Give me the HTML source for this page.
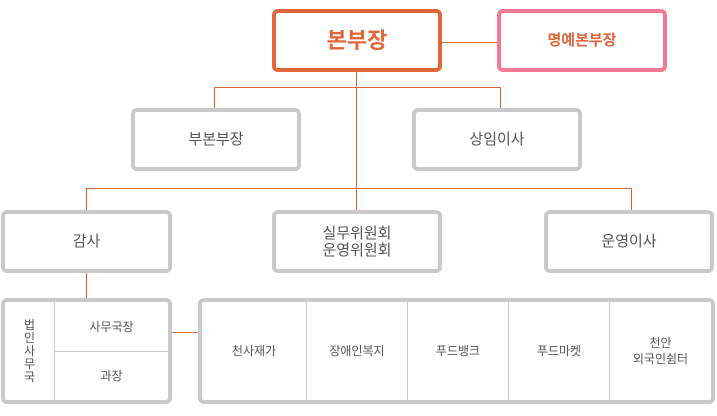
<!DOCTYPE html>
<html><head><meta charset="utf-8"><style>
body{margin:0;width:717px;height:416px;background:#fff;position:relative;overflow:hidden;font-family:"Liberation Sans","Noto Sans CJK KR",sans-serif;}
.b{position:absolute;box-sizing:border-box;border:4px solid #c9c9c9;border-radius:6px;display:flex;align-items:center;justify-content:center;color:#555;font-size:15px;text-align:center;line-height:17px;background:#fff;}
.l{position:absolute;background:#e0663a;}
.c{position:absolute;display:flex;align-items:center;justify-content:center;color:#555;font-size:12px;text-align:center;line-height:16px;}
</style></head><body>
<div class="l" style="left:442px;top:42px;width:55px;height:1px"></div>
<div class="l" style="left:356px;top:72px;width:1px;height:138px"></div>
<div class="l" style="left:214px;top:87px;width:287px;height:1px"></div>
<div class="l" style="left:214px;top:87px;width:1px;height:22px"></div>
<div class="l" style="left:500px;top:87px;width:1px;height:22px"></div>
<div class="l" style="left:86px;top:188px;width:546px;height:1px"></div>
<div class="l" style="left:86px;top:188px;width:1px;height:22px"></div>
<div class="l" style="left:631px;top:188px;width:1px;height:22px"></div>
<div class="l" style="left:86px;top:272px;width:1px;height:27px"></div>
<div class="l" style="left:171px;top:332px;width:28px;height:1px"></div>

<div class="b" style="left:272px;top:9px;width:170px;height:63px;border-color:#e0663a;color:#e0663a;font-size:22px;font-weight:bold">본부장</div>
<div class="b" style="left:497px;top:9px;width:170px;height:63px;border-color:#f47a93;color:#e0663a;font-size:15px;font-weight:bold">명예본부장</div>
<div class="b" style="left:131px;top:108px;width:170px;height:63px">부본부장</div>
<div class="b" style="left:412px;top:108px;width:170px;height:63px">상임이사</div>
<div class="b" style="left:1px;top:210px;width:171px;height:63px">감사</div>
<div class="b" style="left:272px;top:210px;width:170px;height:63px">실무위원회<br>운영위원회</div>
<div class="b" style="left:544px;top:210px;width:170px;height:63px">운영이사</div>

<div class="b" style="left:1px;top:298px;width:171px;height:106px;display:block">
 <div class="c" style="left:0;top:0;width:49px;height:98px;border-right:1px solid #ccc;line-height:13px">법<br>인<br>사<br>무<br>국</div>
 <div class="c" style="left:50px;top:0;width:113px;height:49px;border-bottom:1px solid #ccc">사무국장</div>
 <div class="c" style="left:50px;top:50px;width:113px;height:48px">과장</div>
</div>
<div class="b" style="left:198px;top:298px;width:517px;height:106px;display:block">
 <div class="c" style="left:0;top:0;width:104px;height:98px;border-right:1px solid #ccc">천사재가</div>
 <div class="c" style="left:105px;top:0;width:100px;height:98px;border-right:1px solid #ccc">장애인복지</div>
 <div class="c" style="left:206px;top:0;width:100px;height:98px;border-right:1px solid #ccc">푸드뱅크</div>
 <div class="c" style="left:307px;top:0;width:100px;height:98px;border-right:1px solid #ccc">푸드마켓</div>
 <div class="c" style="left:408px;top:0;width:101px;height:98px">천안<br>외국인쉼터</div>
</div>
</body></html>
